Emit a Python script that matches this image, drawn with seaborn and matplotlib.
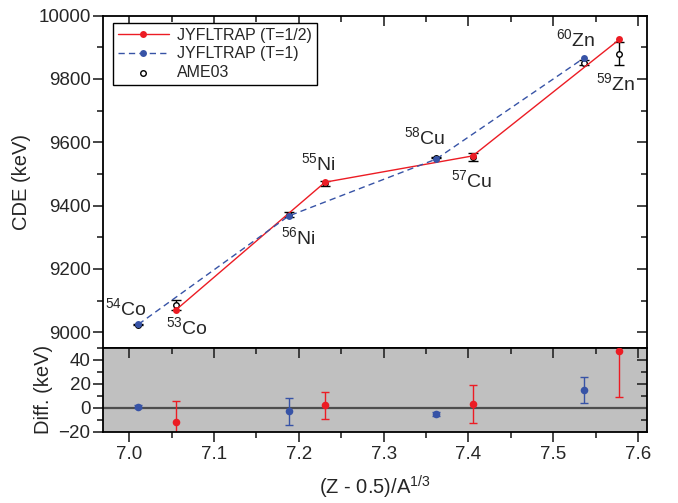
import numpy as np
import pandas as pd
import matplotlib
matplotlib.use("Agg")
import matplotlib.pyplot as plt
import matplotlib.lines as mlines
import seaborn as sns
from matplotlib.ticker import MultipleLocator

# --------------------------------------------------------------
# data
# --------------------------------------------------------------
# T=1/2 mirror nuclei (53Co, 55Ni, 57Cu, 59Zn)
x_half = [7.055, 7.231, 7.405, 7.578]
cde_half = [9070, 9474, 9557, 9925]
# T=1 nuclei (54Co, 56Ni, 58Cu, 60Zn)
x_one = [7.011, 7.188, 7.362, 7.536]
cde_one = [9025, 9367, 9547, 9866]
# AME03 values
x_ame = [7.011, 7.055, 7.188, 7.231, 7.362, 7.405, 7.536, 7.578]
cde_ame = [9024, 9086, 9371, 9471, 9551, 9554, 9852, 9880]
err_ame = [1, 16, 8, 8, 1, 12, 8, 37]

# differences JYFLTRAP - AME03
diff_half = [-12, 2, 3, 47]
diff_half_err = [18, 11, 16, 38]
diff_one = [1, -3, -5, 15]
diff_one_err = [1.5, 11.5, 1.5, 11]

labels = ['$^{54}$Co', '$^{53}$Co', '$^{56}$Ni', '$^{55}$Ni',
          '$^{58}$Cu', '$^{57}$Cu', '$^{60}$Zn', '$^{59}$Zn']
label_x = [6.996, 7.068, 7.200, 7.223, 7.348, 7.404, 7.526, 7.574]
label_y = [9077, 9017, 9301, 9535, 9615, 9481, 9926, 9787]

red = '#ec1c24'
blue = '#3753a6'

df_half = pd.DataFrame({'x': x_half, 'cde': cde_half, 'diff': diff_half, 'err': diff_half_err})
df_one = pd.DataFrame({'x': x_one, 'cde': cde_one, 'diff': diff_one, 'err': diff_one_err})
df_ame = pd.DataFrame({'x': x_ame, 'cde': cde_ame, 'err': err_ame})

sns.set_theme(style='ticks')
plt.rcParams['font.family'] = ['Liberation Sans', 'DejaVu Sans']
plt.rcParams['mathtext.fontset'] = 'custom'
plt.rcParams['mathtext.rm'] = 'Liberation Sans'
plt.rcParams['mathtext.it'] = 'Liberation Sans'
plt.rcParams['axes.linewidth'] = 1.3

fig = plt.figure(figsize=(6.78, 5.03), dpi=100)
ax = fig.add_axes([0.152, 0.3087, 0.8024, 0.6601])
ax2 = fig.add_axes([0.152, 0.1417, 0.8024, 0.1670])

# --------------------------------------------------------------
# top panel: CDE
# --------------------------------------------------------------
ax.errorbar(df_ame['x'], df_ame['cde'], yerr=df_ame['err'], fmt='none',
            ecolor='black', elinewidth=1, capsize=3.3, capthick=1, zorder=2)
sns.scatterplot(data=df_ame, x='x', y='cde', ax=ax, marker='o', s=16,
                facecolor='white', edgecolor='black', linewidth=1,
                label='AME03', zorder=3)
sns.lineplot(data=df_half, x='x', y='cde', ax=ax, color=red, lw=1,
             marker='o', markersize=5, markeredgewidth=0,
             label='JYFLTRAP (T=1/2)', zorder=4)
sns.lineplot(data=df_one, x='x', y='cde', ax=ax, color=blue, lw=1,
             linestyle=(0, (4.5, 3)), marker='o', markersize=5, markeredgewidth=0,
             label='JYFLTRAP (T=1)', zorder=4)

for lab, lx, ly in zip(labels, label_x, label_y):
    ax.text(lx, ly, lab, fontsize=14, ha='center', va='center')

ax.set_xlim(6.9693, 7.6106)
ax.set_ylim(8951, 10000)
ax.yaxis.set_major_locator(MultipleLocator(200))
ax.yaxis.set_minor_locator(MultipleLocator(100))
ax.xaxis.set_major_locator(MultipleLocator(0.1))
ax.xaxis.set_minor_locator(MultipleLocator(0.05))
ax.set_xlabel('')
ax.set_ylabel('CDE (keV)', fontsize=14.5, labelpad=5)
ax.tick_params(axis='x', which='both', bottom=False, labelbottom=False,
               top=True, direction='in', width=1.2)
ax.tick_params(axis='x', which='major', length=7)
ax.tick_params(axis='x', which='minor', length=4)
ax.tick_params(axis='y', which='both', left=True, right=True, width=1.2)
ax.tick_params(axis='y', which='major', length=7, labelsize=13.5, pad=2)
ax.tick_params(axis='y', which='minor', length=4)
for a in [ax, ax2]:
    for s in a.spines.values():
        s.set_visible(True)
        s.set_color('black')
# left ticks outward, right ticks inward
for t in ax.yaxis.get_major_ticks() + ax.yaxis.get_minor_ticks():
    t.tick1line.set_marker(mlines.TICKLEFT)
    t.tick2line.set_marker(mlines.TICKLEFT)

h, l = ax.get_legend_handles_labels()
order = [l.index('JYFLTRAP (T=1/2)'), l.index('JYFLTRAP (T=1)'), l.index('AME03')]
leg = ax.legend([h[i] for i in order], [l[i] for i in order], loc='upper left',
                bbox_to_anchor=(0.0185, 0.978), fontsize=11.5, frameon=True,
                fancybox=False, edgecolor='black', handlelength=3.2,
                borderpad=0.3, labelspacing=0.22, handletextpad=0.5,
                borderaxespad=0)
leg.get_frame().set_linewidth(1)
leg.get_frame().set_alpha(1)

# --------------------------------------------------------------
# bottom panel: differences
# --------------------------------------------------------------
ax2.set_facecolor('#c0c0c0')
ax2.axhline(0, color='#4d4d4d', lw=1.6, zorder=1)
ax2.errorbar(df_one['x'], df_one['diff'], yerr=df_one['err'], fmt='none',
             ecolor=blue, elinewidth=1, capsize=3, capthick=1, zorder=2)
ax2.errorbar(df_half['x'], df_half['diff'], yerr=df_half['err'], fmt='none',
             ecolor=red, elinewidth=1, capsize=3, capthick=1, zorder=2)
sns.scatterplot(data=df_one, x='x', y='diff', ax=ax2, color=blue, s=30,
                linewidth=0, zorder=3)
sns.scatterplot(data=df_half, x='x', y='diff', ax=ax2, color=red, s=30,
                linewidth=0, zorder=3)
ax2.set_xlim(6.9693, 7.6106)
ax2.set_ylim(-20, 50)
ax2.xaxis.set_minor_locator(MultipleLocator(0.05))
ax2.yaxis.set_major_locator(MultipleLocator(20))
ax2.yaxis.set_minor_locator(MultipleLocator(10))
ax2.set_xticks(np.arange(7.0, 7.61, 0.1))
ax2.set_xticklabels(['7.0', '7.1', '7.2', '7.3', '7.4', '7.5', '7.6'])
ax2.tick_params(axis='x', which='both', bottom=True, top=True, width=1.2,
                labelsize=13.5, pad=3)
ax2.tick_params(axis='x', which='major', length=7)
ax2.tick_params(axis='x', which='minor', length=4)
ax2.tick_params(axis='y', which='both', left=True, right=True, width=1.2)
ax2.tick_params(axis='y', which='major', length=7, labelsize=13.5, pad=2)
ax2.tick_params(axis='y', which='minor', length=4)
for t in ax2.xaxis.get_major_ticks() + ax2.xaxis.get_minor_ticks():
    t.tick2line.set_marker(mlines.TICKDOWN)
for t in ax2.yaxis.get_major_ticks() + ax2.yaxis.get_minor_ticks():
    t.tick2line.set_marker(mlines.TICKLEFT)
ax2.set_xlabel('(Z - 0.5)/A$^{1/3}$', fontsize=14.5, labelpad=8)
ax2.set_ylabel('Diff. (keV)', fontsize=14.5, labelpad=4)
if ax2.get_legend() is not None:
    ax2.get_legend().remove()
fig.align_ylabels([ax, ax2])

fig.savefig('out.png', dpi=100)
